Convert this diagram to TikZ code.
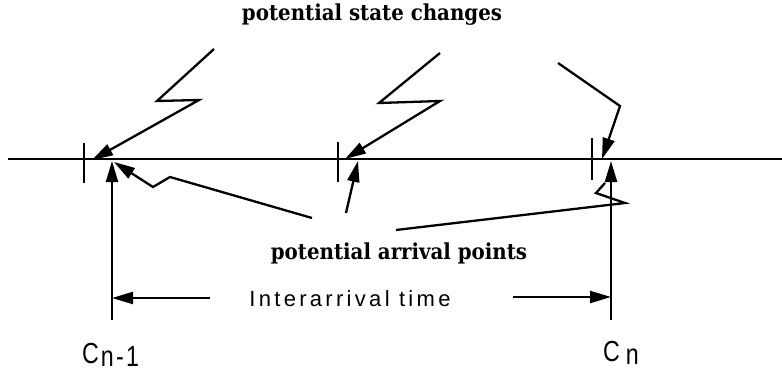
\documentclass[tikz,border=0pt]{standalone}
\usepackage{fontspec}
\setmainfont{DejaVu Serif Condensed}
\newfontfamily\plotfont[LetterSpace=15]{Liberation Sans}
\newfontfamily\cfont[FakeStretch=0.8,LetterSpace=8]{Liberation Sans}
\usetikzlibrary{arrows.meta}
\begin{document}
\begin{tikzpicture}[x=1pt,y=-1pt,
  ln/.style={line width=2.3pt},
  tk/.style={line width=2pt},
  arr/.style={ln,-{Triangle[length=21pt,width=12pt]}},
  serif/.style={font=\fontsize{22}{24}\selectfont\bfseries, inner sep=0pt},
  plot/.style={font=\fontsize{22}{24}\plotfont, inner sep=0pt},
  clab/.style={font=\fontsize{29}{30}\cfont, inner sep=0pt, anchor=base west}]
\useasboundingbox (0,0) rectangle (782,372);

% time axis
\coordinate (L) at (8,159);
\coordinate (R) at (782,159);
\draw[ln] (L) -- (R);

% ticks
\coordinate (t1a) at (84,143); \coordinate (t1b) at (84,183);
\coordinate (t2a) at (338,142); \coordinate (t2b) at (338,182);
\coordinate (t3a) at (592,138); \coordinate (t3b) at (592,180);
\draw[tk] (t1a) -- (t1b);
\draw[tk] (t2a) -- (t2b);
\draw[tk] (t3a) -- (t3b);

% labels
\node[serif] (top) at (372,15) {potential state changes};
\node[serif] (arrlab) at (399,253) {potential arrival points};
\node[plot] (ia) at (350,299) {Interarrival time};
\node[clab] (c1) at (82,363) {C\hspace{2pt}\raisebox{-3pt}{n-1}};
\node[clab] (c2) at (603,361) {C\hspace{6pt}\raisebox{-3pt}{n}};

% state change arrows
\coordinate (s1) at (214,49); \coordinate (s1a) at (157,101); \coordinate (s1b) at (199,100); \coordinate (s1t) at (92,160);
\draw[arr] (s1) -- (s1a) -- (s1b) -- (s1t);
\coordinate (s2) at (440,53); \coordinate (s2a) at (379,103); \coordinate (s2b) at (440,101); \coordinate (s2t) at (345,159);
\draw[arr] (s2) -- (s2a) -- (s2b) -- (s2t);
\coordinate (s3) at (558,63); \coordinate (s3a) at (620,106); \coordinate (s3t) at (602,159);
\draw[arr] (s3) -- (s3a) -- (s3t);

% arrival point arrows
\coordinate (v1b) at (112,320); \coordinate (v1t) at (112,161);
\draw[arr] (v1b) -- (v1t);
\coordinate (v2b) at (611,320); \coordinate (v2t) at (611,161);
\draw[arr] (v2b) -- (v2t);

\coordinate (a1) at (312,218); \coordinate (a1a) at (170,177); \coordinate (a1b) at (153,187); \coordinate (a1t) at (114,162);
\draw[arr] (a1) -- (a1a) -- (a1b) -- (a1t);
\coordinate (a2) at (346,213); \coordinate (a2t) at (358,161);
\draw[arr] (a2) -- (a2t);
\coordinate (a3) at (396,230); \coordinate (a3a) at (625,203); \coordinate (a3b) at (596,193); \coordinate (a3t) at (605,183);
\draw[ln] (a3) -- (a3a) -- (a3b) -- (a3t);

% interarrival arrows
\coordinate (i1) at (210,298); \coordinate (i1t) at (112,298);
\draw[arr] (i1) -- (i1t);
\coordinate (i2) at (513,297); \coordinate (i2t) at (611,297);
\draw[arr] (i2) -- (i2t);
\end{tikzpicture}
\end{document}
